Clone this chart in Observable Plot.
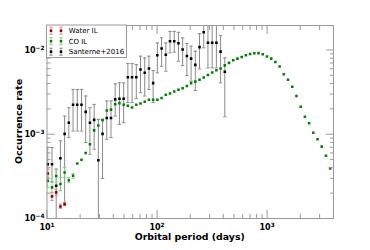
<!DOCTYPE html>
<html><head><meta charset="utf-8">
<script src="https://cdn.jsdelivr.net/npm/d3@7"></script>
<script src="https://cdn.jsdelivr.net/npm/@observablehq/plot@0.6"></script>
<style>
body{margin:0;background:#fff;}
#chart svg{font-family:"DejaVu Sans",sans-serif;}
</style></head><body><div id="chart"></div>
<script>
// Orbital period bin centres (days)
const period = [10.16, 11.10, 12.12, 13.24, 14.46, 15.79, 17.25, 18.84, 20.58, 22.47, 24.55, 26.81, 29.28, 31.98, 34.93, 38.15, 41.67, 45.51, 49.71, 54.29, 59.29, 64.76, 70.73, 77.25, 84.37, 92.15, 100.6, 109.9, 120.1, 131.1, 143.2, 156.4, 170.8, 186.6, 203.8, 222.6, 243.1, 265.5, 290.0, 316.7, 345.9, 377.8, 412.6, 450.7, 492.2, 537.6, 587.2, 641.3, 700.4, 765.0, 835.6, 912.6, 996.8, 1089, 1189, 1299, 1418, 1549, 1692, 1848, 2018, 2204, 2407, 2629, 2872, 3137, 3426, 3742, 4087];
// CO IL occurrence rate
const coIL = [2.81e-4, 2.34e-4, 3.20e-4, 2.57e-4, 3.52e-4, 2.85e-4, 3.21e-4, 4.49e-4, 4.98e-4, 6.00e-4, 7.62e-4, 1.11e-3, 1.27e-3, 1.47e-3, 1.91e-3, 1.96e-3, 2.27e-3, 2.34e-3, 2.24e-3, 2.18e-3, 2.08e-3, 2.24e-3, 2.32e-3, 2.43e-3, 2.56e-3, 2.56e-3, 2.56e-3, 2.69e-3, 2.94e-3, 3.04e-3, 3.21e-3, 3.37e-3, 3.52e-3, 3.73e-3, 4.04e-3, 4.21e-3, 4.42e-3, 4.71e-3, 5.04e-3, 5.41e-3, 5.75e-3, 6.01e-3, 6.56e-3, 7.02e-3, 7.55e-3, 7.89e-3, 8.26e-3, 8.65e-3, 8.95e-3, 9.14e-3, 9.16e-3, 8.89e-3, 8.38e-3, 7.89e-3, 7.21e-3, 6.35e-3, 5.16e-3, 4.42e-3, 3.66e-3, 2.84e-3, 2.12e-3, 1.61e-3, 1.35e-3, 1.04e-3, 8.71e-4, 7.13e-4, 5.56e-4, 3.92e-4, 3.07e-4];
const coLo = [2.34e-4, 2.04e-4, 2.68e-4, 2.14e-4, 3.07e-4, 2.68e-4, 2.99e-4];
const coHi = [3.36e-4, 2.68e-4, 3.85e-4, 3.07e-4, 4.03e-4, 3.07e-4, 3.42e-4];
// Water IL occurrence rate
const waterIL = [3.42e-4, 1.83e-4, 2.04e-4, 1.39e-4, 1.48e-4];
const waterLo = [3.07e-4, 1.63e-4, 1.87e-4, 1.32e-4, 1.42e-4];
const waterHi = [3.85e-4, 2.04e-4, 2.23e-4, 1.48e-4, 1.55e-4];
// Santerne+2016
const sant = [4.41e-4, 4.41e-4, 2.45e-4, 5.19e-4, 1.01e-3, 1.37e-3, 2.24e-3, 2.24e-3, 2.24e-3, 1.84e-3, 1.37e-3, 1.48e-3, 4.91e-4, 1.01e-3, 1.56e-3, 1.56e-3, 2.59e-3, 2.64e-3, 2.64e-3, 4.75e-3, 4.75e-3, 4.75e-3, 5.85e-3, 5.35e-3, 6.01e-3, 4.04e-3, 8.65e-3, 1.04e-2, 8.79e-3, 1.27e-2, 1.27e-2, 1.20e-2, 1.01e-2, 8.49e-3, 7.89e-3, 6.65e-3, 1.08e-2, 1.62e-2, 1.22e-2, 1.22e-2, 1.22e-2, 9.55e-3, 5.50e-3];
const santHi = [6.95e-4, 6.95e-4, 3.85e-4, 8.34e-4, 1.64e-3, 2.06e-3, 3.40e-3, 3.40e-3, 3.40e-3, 2.84e-3, 2.06e-3, 2.26e-3, 1.50e-3, 1.50e-3, 2.48e-3, 2.48e-3, 3.96e-3, 4.07e-3, 4.07e-3, 6.89e-3, 6.89e-3, 6.70e-3, 8.44e-3, 8.04e-3, 8.44e-3, 5.69e-3, 1.21e-2, 1.39e-2, 1.21e-2, 1.66e-2, 1.66e-2, 1.62e-2, 1.39e-2, 1.19e-2, 1.11e-2, 9.66e-3, 1.56e-2, 2.3e-2, 2.0e-2, 2.0e-2, 2.0e-2, 1.48e-2, 8.04e-3];
const santLo = [2.73e-4, 2.73e-4, 1e-5, 2.14e-4, 1.45e-4, 9.12e-4, 1.09e-3, 1.09e-3, 1.09e-3, 7.96e-4, 5.78e-4, 6.64e-4, 1e-5, 2.99e-4, 8.71e-4, 9.12e-4, 1.64e-3, 1.31e-3, 1.37e-3, 2.37e-3, 2.37e-3, 2.64e-3, 3.11e-3, 2.84e-3, 3.40e-3, 2.37e-3, 5.35e-3, 6.41e-3, 5.60e-3, 9.23e-3, 9.40e-3, 7.34e-3, 6.52e-3, 4.97e-3, 4.27e-3, 3.30e-3, 5.96e-3, 1.06e-2, 6.12e-3, 6.12e-3, 6.12e-3, 4.07e-3, 1.61e-3];

const xTicks = [10, 100, 1000];
const xMinor = [20, 30, 40, 50, 60, 70, 80, 90, 200, 300, 400, 500, 600, 700, 800, 900, 2000, 3000, 4000];
const yTicks = [1e-4, 1e-3, 1e-2];
const yMinor = [2e-4, 3e-4, 4e-4, 5e-4, 6e-4, 7e-4, 8e-4, 9e-4, 2e-3, 3e-3, 4e-3, 5e-3, 6e-3, 7e-3, 8e-3, 9e-3];
const seriesNames = ["Water IL", "CO IL", "Santerne+2016"];
const seriesColors = ["#8b0000", "#008000", "#000000"];
const errColors = ["#d89090", "#8fd08f", "#8a8a8a"];
const xLabel = "Orbital period (days)";
const yLabel = "Occurrence rate";

const coRows = period.map((p, i) => ({p, v: coIL[i], lo: coLo[i], hi: coHi[i]}));
const coErr = coRows.filter(d => d.lo != null);
const waterRows = waterIL.map((v, i) => ({p: period[i], v, lo: waterLo[i], hi: waterHi[i]}));
const santRows = sant.map((v, i) => ({p: period[i], v, lo: santLo[i], hi: santHi[i]}));

const cap = {draw(ctx, size) { const w = Math.sqrt(size / Math.PI); ctx.moveTo(-w, 0); ctx.lineTo(w, 0); }};

function errMarks(rows, color) {
  return [
    Plot.ruleX(rows, {x: "p", y1: "lo", y2: "hi", stroke: color, strokeWidth: 1, clip: true}),
    Plot.dot(rows, {x: "p", y: "lo", symbol: cap, r: 1.7, stroke: color, fill: "none", strokeWidth: 1, clip: true}),
    Plot.dot(rows, {x: "p", y: "hi", symbol: cap, r: 1.7, stroke: color, fill: "none", strokeWidth: 1, clip: true})
  ];
}
function dots(rows, color) {
  return Plot.dot(rows, {x: "p", y: "v", symbol: "square", r: 1.45, fill: color, stroke: "none", clip: true});
}
const axStroke = "#9a9a9a";
const fmt = d => String(Math.round(Math.log10(d)));

const chart = Plot.plot({
  width: 370, height: 250,
  marginLeft: 46.5, marginRight: 37, marginTop: 25, marginBottom: 32,
  style: {fontFamily: "DejaVu Sans", background: "#fff"},
  x: {type: "log", domain: [10, 4010]},
  y: {type: "log", domain: [1e-4, 0.0195]},
  marks: [
    ...errMarks(santRows, errColors[2]),
    ...errMarks(waterRows, errColors[0]),
    ...errMarks(coErr, errColors[1]),
    dots(waterRows, seriesColors[0]),
    dots(coRows, seriesColors[1]),
    dots(santRows, seriesColors[2]),
    Plot.frame({stroke: axStroke}),
    Plot.axisX(xTicks, {anchor: "bottom", tickSize: -8, fill: "none", stroke: axStroke, label: null}),
    Plot.axisX(xTicks, {anchor: "top", tickSize: -8, fill: "none", stroke: axStroke, label: null}),
    Plot.axisX(xMinor, {anchor: "bottom", tickSize: -4, fill: "none", stroke: axStroke, label: null}),
    Plot.axisX(xMinor, {anchor: "top", tickSize: -4, fill: "none", stroke: axStroke, label: null}),
    Plot.axisY(yTicks, {anchor: "left", tickSize: -8, fill: "none", stroke: axStroke, label: null}),
    Plot.axisY(yTicks, {anchor: "right", tickSize: -8, fill: "none", stroke: axStroke, label: null}),
    Plot.axisY(yMinor, {anchor: "left", tickSize: -4, fill: "none", stroke: axStroke, label: null}),
    Plot.axisY(yMinor, {anchor: "right", tickSize: -4, fill: "none", stroke: axStroke, label: null}),
    Plot.axisX(xTicks, {anchor: "bottom", tickSize: 0, tickPadding: 5.5, tickFormat: fmt, fill: "#000", fontSize: 8, fontWeight: "bold", label: null}),
    Plot.axisY(yTicks, {anchor: "left", tickSize: 0, tickPadding: 2.5, tickFormat: fmt, fill: "#000", fontSize: 8, fontWeight: "bold", label: null})
  ]
});

const svg = d3.select(chart);
// superscript tick labels
svg.selectAll("g[aria-label='x-axis tick label'] text, g[aria-label='y-axis tick label'] text").each(function() {
  const t = d3.select(this);
  const e = t.text().replace("-", "\u2212");
  t.text(null);
  t.append("tspan").text("10");
  t.append("tspan").attr("dy", "-0.45em").attr("font-size", "5.8px").text(e);
});

// axis labels
svg.append("text").attr("x", 189.75).attr("y", 240.3).attr("text-anchor", "middle")
  .attr("font-size", 9.4).attr("font-weight", "bold").attr("fill", "#000").text(xLabel);
svg.append("text").attr("transform", "translate(22.3,121.5) rotate(-90)").attr("text-anchor", "middle")
  .attr("font-size", 9.4).attr("font-weight", "bold").attr("fill", "#000").text(yLabel);

// legend
const lg = svg.append("g");
lg.append("rect").attr("x", 46.5).attr("y", 25).attr("width", 80).attr("height", 32.5)
  .attr("fill", "#fff").attr("stroke", axStroke).attr("stroke-width", 1);
seriesNames.forEach((name, i) => {
  const cy = 30.7 + i * 10.5;
  [51, 61].forEach(cx => {
    lg.append("line").attr("x1", cx).attr("x2", cx).attr("y1", cy - 3.5).attr("y2", cy + 3.5).attr("stroke", errColors[i]);
    lg.append("line").attr("x1", cx - 1.7).attr("x2", cx + 1.7).attr("y1", cy - 3.5).attr("y2", cy - 3.5).attr("stroke", errColors[i]);
    lg.append("line").attr("x1", cx - 1.7).attr("x2", cx + 1.7).attr("y1", cy + 3.5).attr("y2", cy + 3.5).attr("stroke", errColors[i]);
    lg.append("rect").attr("x", cx - 1.25).attr("y", cy - 1.25).attr("width", 2.5).attr("height", 2.5).attr("fill", seriesColors[i]);
  });
  lg.append("text").attr("x", 68.7).attr("y", cy + 2.5).attr("text-anchor", "start")
    .attr("font-size", 7).attr("fill", "#000").text(name);
});

document.getElementById("chart").appendChild(chart);
</script></body></html>
